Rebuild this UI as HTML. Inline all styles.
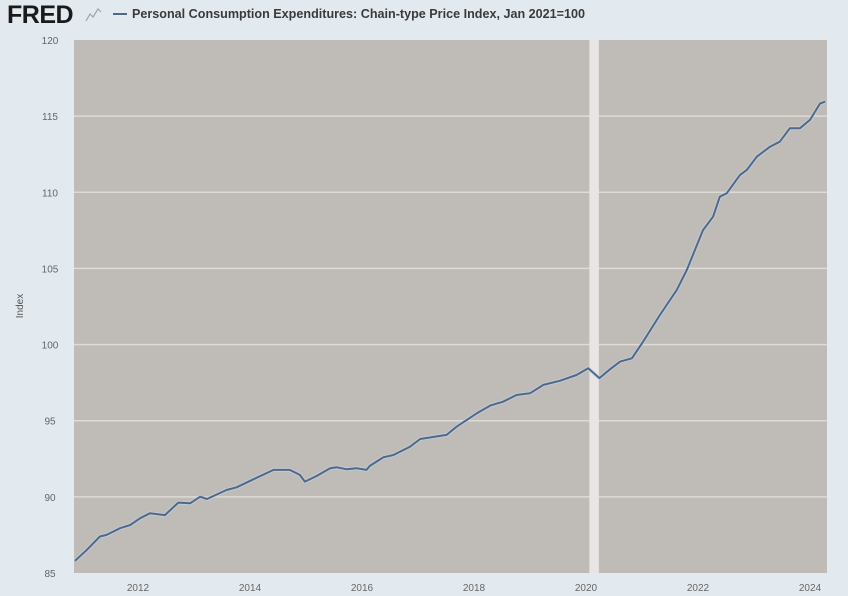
<!DOCTYPE html>
<html>
<head>
<meta charset="utf-8">
<style>
  html,body{margin:0;padding:0;}
  body{width:848px;height:596px;background:#e2e9ef;font-family:"Liberation Sans",sans-serif;position:relative;overflow:hidden;}
  svg{position:absolute;left:0;top:0;}
</style>
</head>
<body>
<svg id="chart" width="848" height="596">
  <text x="7" y="23" font-family="Liberation Sans, sans-serif" font-weight="bold" font-size="25" fill="#1a1a1a" letter-spacing="-0.5">FRED</text>
  <path d="M86 21 L90 14 L93 17 L98 9 L101 12" stroke="#9aa8b4" stroke-width="1.2" fill="none"/>
  <line x1="113" y1="14" x2="127" y2="14" stroke="#4b6a8d" stroke-width="2"/>
  <text x="132" y="18" font-size="12.5" font-weight="bold" fill="#3a3a3a" textLength="453" lengthAdjust="spacingAndGlyphs">Personal Consumption Expenditures: Chain-type Price Index, Jan 2021=100</text>
  <text transform="translate(23,306) rotate(-90)" text-anchor="middle" font-size="10" fill="#555">Index</text>
</svg>
<script>
const years = [2010.875,2011.08,2011.32,2011.44,2011.68,2011.86,2012.04,2012.21,2012.48,2012.72,2012.93,2013.11,2013.23,2013.58,2013.76,2014.06,2014.42,2014.71,2014.89,2014.98,2015.19,2015.43,2015.55,2015.73,2015.9,2016.08,2016.14,2016.38,2016.56,2016.86,2017.04,2017.51,2017.69,2018.05,2018.29,2018.52,2018.76,2019.0,2019.24,2019.54,2019.83,2020.04,2020.24,2020.43,2020.61,2020.82,2021.02,2021.32,2021.62,2021.8,2022.09,2022.27,2022.39,2022.51,2022.75,2022.87,2023.05,2023.29,2023.46,2023.64,2023.82,2024.0,2024.18,2024.27];
const values = [85.8,86.5,87.4,87.5,87.94,88.15,88.6,88.92,88.8,89.62,89.58,90.01,89.86,90.45,90.63,91.15,91.77,91.77,91.44,91.0,91.37,91.88,91.94,91.81,91.88,91.77,92.03,92.6,92.75,93.3,93.8,94.07,94.61,95.49,95.99,96.25,96.69,96.8,97.35,97.63,98.0,98.44,97.8,98.38,98.88,99.1,100.19,101.94,103.58,104.9,107.52,108.4,109.71,109.93,111.14,111.46,112.34,113.0,113.32,114.2,114.2,114.75,115.84,115.95];
const yTicks = [85,90,95,100,105,110,115,120];
const xTicks = [2012,2014,2016,2018,2020,2022,2024];
const recessionStart = 2020.06;
const recessionEnd = 2020.23;

const NS = "http://www.w3.org/2000/svg";
const svg = document.getElementById('chart');
const plotL = 74, plotR = 827, plotT = 40, plotB = 573;
const yMin = 85, yMax = 120;
function xScale(t){ return 138 + (t - 2012) * 56; }
function yScale(v){ return plotB - (v - yMin) / (yMax - yMin) * (plotB - plotT); }
function mk(tag, attrs){ const e = document.createElementNS(NS, tag); for (const k in attrs) e.setAttribute(k, attrs[k]); svg.appendChild(e); return e; }

const bg = mk('rect', {x:plotL, y:plotT, width:plotR-plotL, height:plotB-plotT, fill:'#bfbbb7'});



yTicks.forEach(v => {
  const y = yScale(v);
  if (v !== yMin && v !== yMax) {
    const g = mk('line', {x1:plotL, x2:plotR, y1:y, y2:y, stroke:'#dedad5', 'stroke-width':1.5});
    
    
  }
  const t = mk('text', {x:50, y:y+4, 'text-anchor':'middle', 'font-size':10, fill:'#666'});
  t.textContent = v;
  
  
});

const rec = mk('rect', {x:xScale(recessionStart), y:plotT, width:xScale(recessionEnd)-xScale(recessionStart), height:plotB-plotT, fill:'#e8e6e5'});



xTicks.forEach(yr => {
  const t = mk('text', {x:xScale(yr), y:591, 'text-anchor':'middle', 'font-size':10, fill:'#666'});
  t.textContent = yr;
  
  
});

let d = '';
years.forEach((yr, i) => { d += (i ? 'L' : 'M') + xScale(yr).toFixed(1) + ' ' + yScale(values[i]).toFixed(1) + ' '; });
const halo = mk('path', {d:d, fill:'none', stroke:'#c9d3de', 'stroke-width':4, 'stroke-linejoin':'round', opacity:0.6});


const line = mk('path', {d:d, fill:'none', stroke:'#4d6a8c', 'stroke-width':2, 'stroke-linejoin':'round'});


</script>
</body>
</html>
